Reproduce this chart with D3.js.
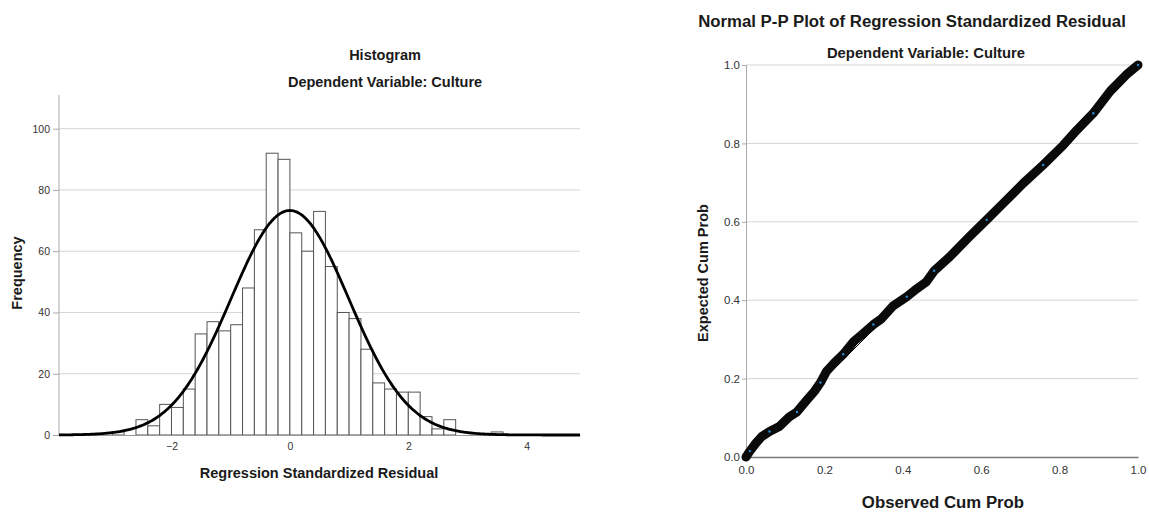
<!DOCTYPE html>
<meta charset="utf-8">
<html>
<head>
  <script src="https://d3js.org/d3.v7.min.js" charset="utf-8"></script>
</head>

<style>
body {
    margin: 0;
    background-color: white;
}

text {
    font-family: "Liberation Sans", Arial, sans-serif;
    fill: #1a1a1a;
}

.title {
    text-anchor: middle;
    font-weight: bold;
}

.tick text {
    fill: #333;
}

.grid line {
    stroke: #d4d4d4;
    stroke-width: 1;
}
</style>

<body>

<div id=container></div>

<script type="text/javascript">

// histogram bins (lower edge, width 0.2) and counts
var binStarts = [-3.0, -2.8, -2.6, -2.4, -2.2, -2.0, -1.8, -1.6, -1.4, -1.2, -1.0,
                 -0.8, -0.6, -0.4, -0.2, 0.0, 0.2, 0.4, 0.6, 0.8, 1.0, 1.2, 1.4,
                 1.6, 1.8, 2.0, 2.2, 2.4, 2.6, 2.8, 3.0, 3.2, 3.4]
var binCounts = [1, 0, 5, 3, 10, 9, 15, 33, 37, 34, 36,
                 48, 67, 92, 90, 66, 60, 73, 55, 40, 38, 28, 17,
                 15, 14, 14, 6, 2, 5, 0, 0, 0, 1]
var binWidth = 0.2

// normal curve parameters (SPSS overlay)
var residMean = 0
var residSd = 0.995
var residN = 914

var histYTicks = [0, 20, 40, 60, 80, 100]
var histXTicks = [-2, 0, 2, 4]

// P-P plot: observed cum prob vs expected cum prob, read along the band
var ppObserved = [0, 0.01, 0.025, 0.04, 0.06, 0.085, 0.11, 0.13, 0.155, 0.175, 0.19,
                  0.205, 0.225, 0.248, 0.275, 0.30, 0.325, 0.345, 0.375, 0.41, 0.43,
                  0.46, 0.48, 0.52, 0.57, 0.614, 0.656, 0.707, 0.758, 0.809, 0.844,
                  0.886, 0.929, 0.97, 1.0]
var ppExpected = [0, 0.015, 0.035, 0.052, 0.065, 0.078, 0.102, 0.115, 0.145, 0.168, 0.19,
                  0.218, 0.24, 0.262, 0.295, 0.316, 0.338, 0.352, 0.385, 0.409, 0.425,
                  0.447, 0.475, 0.511, 0.562, 0.605, 0.647, 0.698, 0.745, 0.795, 0.834,
                  0.877, 0.933, 0.975, 1.0]
var ppTicks = [0, 0.2, 0.4, 0.6, 0.8, 1.0]

var width = 1149
var height = 513

var svg = d3.select("#container")
            .append("svg")
            .attr("width", width)
            .attr("height", height)

// ---------- Histogram ----------
var hx = d3.scaleLinear().domain([-3.9, 4.9]).range([59, 580])
var hy = d3.scaleLinear().domain([0, 111]).range([435, 95])

svg.append("g").attr("class", "grid")
   .selectAll("line")
   .data(histYTicks.filter((d) => d > 0))
   .enter()
   .append("line")
   .attr("x1", hx.range()[0])
   .attr("x2", hx.range()[1])
   .attr("y1", (d) => hy(d))
   .attr("y2", (d) => hy(d))

var bins = binStarts.map((s, i) => ({x0: s, x1: s + binWidth, count: binCounts[i]}))

svg.append("g")
   .selectAll("rect")
   .data(bins.filter((d) => d.count > 0))
   .enter()
   .append("rect")
   .attr("x", (d) => hx(d.x0))
   .attr("width", (d) => hx(d.x1) - hx(d.x0))
   .attr("y", (d) => hy(d.count))
   .attr("height", (d) => hy(0) - hy(d.count))
   .attr("fill", "white")
   .attr("stroke", "#555")
   .attr("stroke-width", 1)

var hxAxis = svg.append("g")
   .attr("transform", "translate(0," + hy(0) + ")")
   .call(d3.axisBottom(hx).tickValues(histXTicks).tickSize(0).tickPadding(8))
hxAxis.select(".domain").attr("stroke", "#999")
hxAxis.selectAll("text").style("font-size", "10.5px")

var hyAxis = svg.append("g")
   .attr("transform", "translate(" + hx.range()[0] + ",0)")
   .call(d3.axisLeft(hy).tickValues(histYTicks).tickSize(6).tickPadding(3))
hyAxis.select(".domain").attr("stroke", "#aaa").attr("d", "M0," + hy(0) + "V" + hy.range()[1])
hyAxis.selectAll(".tick line").attr("stroke", "#aaa")
hyAxis.selectAll("text").style("font-size", "10.5px")

// normal density scaled to counts
var curveX = d3.range(-3.9, 4.9001, 0.02)
var normal = (v) => residN * binWidth / (residSd * Math.sqrt(2 * Math.PI)) *
                    Math.exp(-0.5 * Math.pow((v - residMean) / residSd, 2))

svg.append("path")
   .datum(curveX)
   .attr("d", d3.line().x((d) => hx(d)).y((d) => hy(normal(d))))
   .attr("fill", "none")
   .attr("stroke", "black")
   .attr("stroke-width", 2.8)

svg.append("text").attr("class", "title")
   .attr("x", 385).attr("y", 60)
   .style("font-size", "14.5px")
   .text("Histogram")

svg.append("text").attr("class", "title")
   .attr("x", 385).attr("y", 87)
   .style("font-size", "14.5px")
   .text("Dependent Variable: Culture")

svg.append("text").attr("class", "title")
   .attr("x", 319).attr("y", 478)
   .style("font-size", "14.5px")
   .text("Regression Standardized Residual")

svg.append("text").attr("class", "title")
   .attr("transform", "translate(22,273) rotate(-90)")
   .style("font-size", "14.5px")
   .text("Frequency")

// ---------- Normal P-P plot ----------
var px = d3.scaleLinear().domain([0, 1]).range([746, 1138])
var py = d3.scaleLinear().domain([0, 1]).range([457, 65])

svg.append("g").attr("class", "grid")
   .selectAll("line")
   .data(ppTicks.filter((d) => d > 0))
   .enter()
   .append("line")
   .attr("x1", px(0))
   .attr("x2", px(1))
   .attr("y1", (d) => py(d))
   .attr("y2", (d) => py(d))

var pxAxis = svg.append("g")
   .attr("transform", "translate(0," + py(0) + ")")
   .call(d3.axisBottom(px).tickValues(ppTicks).tickFormat(d3.format(".1f")).tickSize(0).tickPadding(9))
pxAxis.select(".domain").attr("stroke", "#777").attr("stroke-width", 1.5)
pxAxis.selectAll("text").style("font-size", "11.5px")

var pyAxis = svg.append("g")
   .attr("transform", "translate(" + px(0) + ",0)")
   .call(d3.axisLeft(py).tickValues(ppTicks).tickFormat(d3.format(".1f")).tickSize(4).tickPadding(2))
pyAxis.select(".domain").attr("stroke", "#aaa")
pyAxis.selectAll(".tick line").attr("stroke", "#aaa")
pyAxis.selectAll("text").style("font-size", "11.5px")

// reference diagonal
svg.append("line")
   .attr("x1", px(0)).attr("y1", py(0))
   .attr("x2", px(1)).attr("y2", py(1))
   .attr("stroke", "black")
   .attr("stroke-width", 1)

var ppPoints = ppObserved.map((o, i) => [o, ppExpected[i]])

svg.append("path")
   .datum(ppPoints)
   .attr("d", d3.line().x((d) => px(d[0])).y((d) => py(d[1])))
   .attr("fill", "none")
   .attr("stroke", "#0a0a0a")
   .attr("stroke-width", 9)
   .attr("stroke-linecap", "round")
   .attr("stroke-linejoin", "round")

svg.append("g")
   .selectAll("circle")
   .data(ppPoints)
   .enter()
   .append("circle")
   .attr("cx", (d) => px(d[0]))
   .attr("cy", (d) => py(d[1]))
   .attr("r", (d, i) => i % 3 == 1 ? 1.2 : 0)
   .attr("fill", "#2b8cd6")

svg.append("text").attr("class", "title")
   .attr("x", 912).attr("y", 27)
   .style("font-size", "16.8px")
   .text("Normal P-P Plot of Regression Standardized Residual")

svg.append("text").attr("class", "title")
   .attr("x", 926).attr("y", 58)
   .style("font-size", "14.8px")
   .text("Dependent Variable: Culture")

svg.append("text").attr("class", "title")
   .attr("x", 943).attr("y", 508)
   .style("font-size", "16.8px")
   .text("Observed Cum Prob")

svg.append("text").attr("class", "title")
   .attr("transform", "translate(708,273) rotate(-90)")
   .style("font-size", "14.5px")
   .text("Expected Cum Prob")

</script>

</body>
</html>
